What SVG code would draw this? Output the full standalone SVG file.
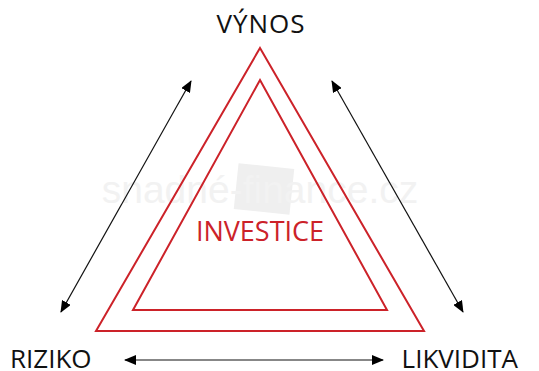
<svg xmlns="http://www.w3.org/2000/svg" width="539" height="371" viewBox="0 0 539 371">
<style>
.lbl{font-family:"Open Sans","Liberation Sans",sans-serif;font-size:26px;fill:#111}
.tri{fill:none;stroke:#cc2229;stroke-width:2}
.con{stroke:#111;stroke-width:1.2;fill:none;marker-start:url(#ah);marker-end:url(#ah)}
.wm{font-family:"Liberation Sans",Arial,sans-serif;font-size:39px;fill:#f2f2f2}
</style>
<defs>
<marker id="ah" viewBox="0 0 12 10" refX="11" refY="5" markerWidth="12" markerHeight="10" markerUnits="userSpaceOnUse" orient="auto-start-reverse">
<path d="M0,0 L12,5 L0,10 z" fill="#000"/>
</marker>
</defs>
<rect width="539" height="371" fill="#fff"/>
<g id="watermark">
<rect x="236" y="166" width="56" height="46" fill="#efefef" transform="rotate(6 264 189)"/>
<text class="wm" x="260" y="203" text-anchor="middle">snadné-finance.cz</text>
</g>
<g id="investice">
<polygon class="tri" points="260,48 424,331 96,331"/>
<polygon class="tri" points="260,80 387,310 133,310"/>
<text x="260" y="241" text-anchor="middle" style="font-family:'Open Sans','Liberation Sans',sans-serif;font-size:27px;fill:#cc2229">INVESTICE</text>
</g>
<g id="vynos"><text class="lbl" x="261" y="33" text-anchor="middle" letter-spacing="1">VÝNOS</text></g>
<g id="riziko"><text class="lbl" x="10" y="368">RIZIKO</text></g>
<g id="likvidita"><text class="lbl" x="518" y="368" text-anchor="end">LIKVIDITA</text></g>
<g id="connectors">
<line class="con" x1="61" y1="312" x2="191" y2="81"/>
<line class="con" x1="332" y1="81" x2="463" y2="312"/>
<line class="con" x1="125" y1="360" x2="383" y2="360"/>
</g>
</svg>
